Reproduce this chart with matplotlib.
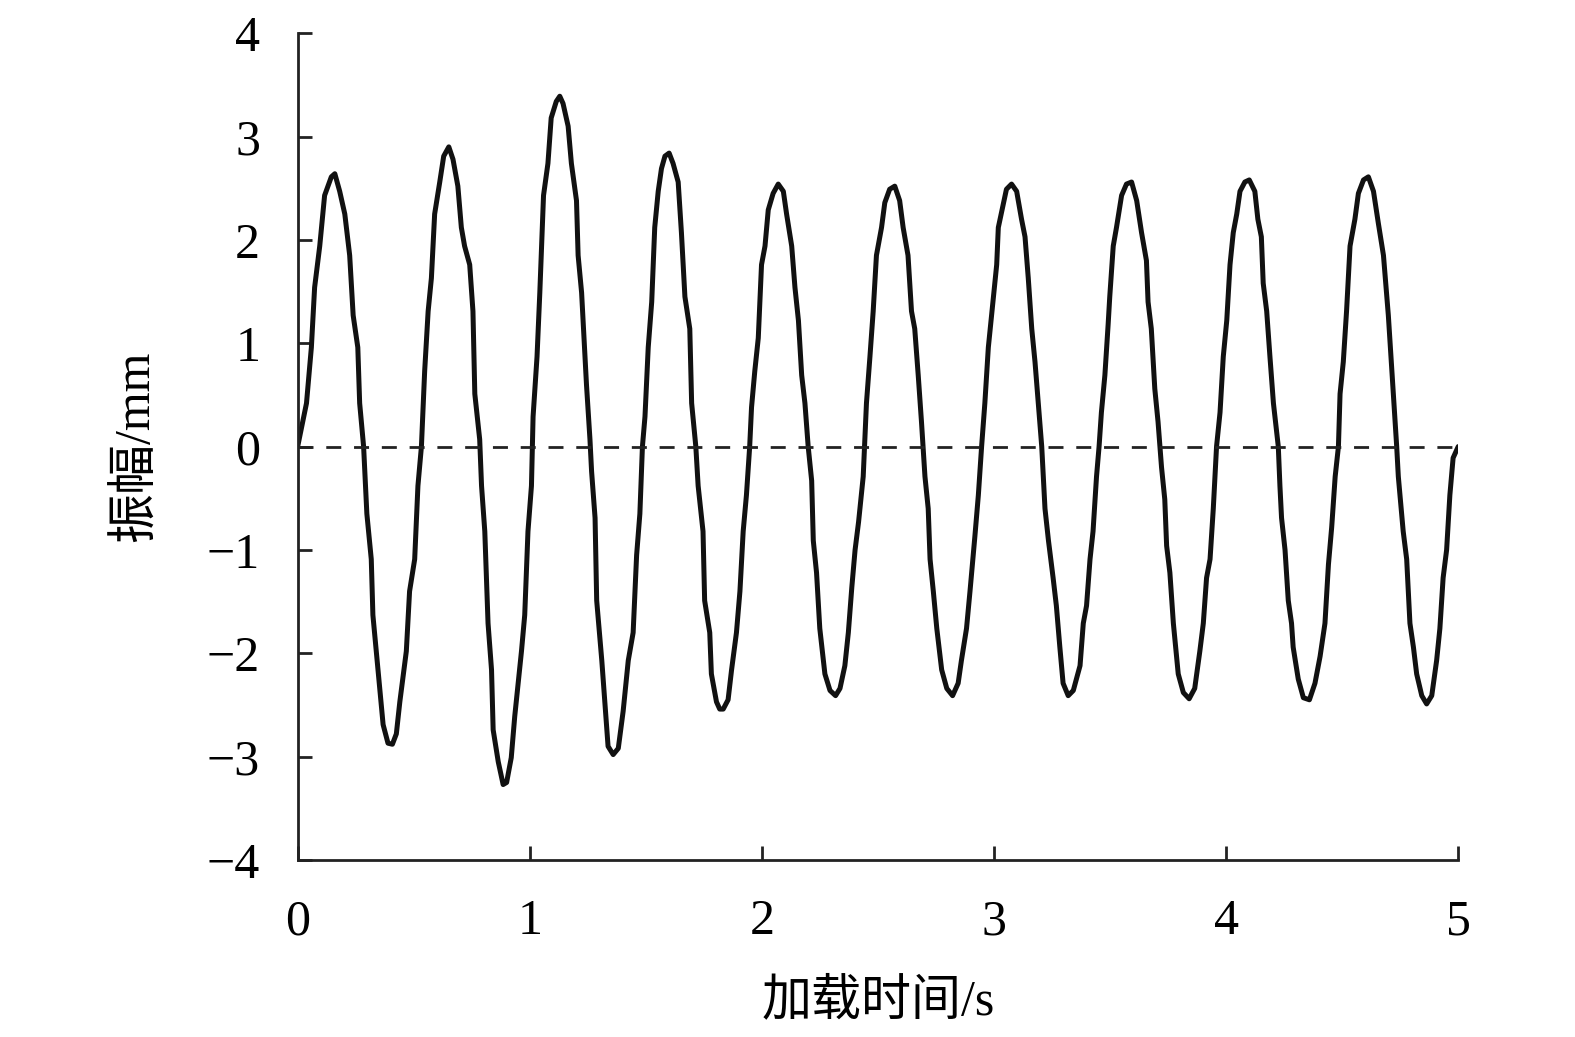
import matplotlib
matplotlib.use("Agg")
import matplotlib.pyplot as plt

# 加载时间 (s) 与振幅 (mm)
t = [0.000, 0.038, 0.059, 0.073, 0.095, 0.116, 0.145, 0.160, 0.181, 0.203,
     0.224, 0.239, 0.259, 0.267, 0.284, 0.298, 0.317, 0.324, 0.346, 0.368,
     0.389, 0.408, 0.425, 0.440, 0.468, 0.482, 0.504, 0.518, 0.533, 0.547,
     0.562, 0.576, 0.590, 0.612, 0.629, 0.651, 0.669, 0.690, 0.705, 0.719,
     0.741, 0.755, 0.763, 0.784, 0.792,
     0.806, 0.820, 0.835, 0.842, 0.864, 0.885, 0.900, 0.920, 0.935, 0.964,
     0.978, 0.992, 1.007, 1.014, 1.031, 1.043, 1.059, 1.078, 1.092, 1.114,
     1.129, 1.143, 1.165, 1.179, 1.201, 1.208, 1.223, 1.244, 1.259, 1.266,
     1.281, 1.288, 1.310, 1.323, 1.337, 1.359, 1.381, 1.402, 1.424, 1.445,
     1.460, 1.474, 1.485, 1.496, 1.510, 1.525, 1.538, 1.553, 1.567, 1.582,
     1.600, 1.617, 1.639,
     1.653, 1.668, 1.689, 1.697, 1.715, 1.725, 1.746, 1.753, 1.775, 1.782,
     1.804, 1.818, 1.833, 1.854, 1.869, 1.890, 1.905, 1.919, 1.933, 1.947,
     1.955, 1.969, 1.984, 1.998, 2.013, 2.027, 2.048, 2.070, 2.092, 2.106,
     2.128, 2.142, 2.157, 2.171, 2.185, 2.199, 2.214, 2.221, 2.235, 2.249,
     2.271, 2.293, 2.317, 2.336, 2.357, 2.372, 2.387, 2.401, 2.416,
     2.436, 2.450, 2.465, 2.479, 2.493, 2.515, 2.529, 2.550, 2.572, 2.593,
     2.608, 2.629, 2.644, 2.658, 2.673, 2.687, 2.702, 2.716, 2.724, 2.738,
     2.753, 2.774, 2.796, 2.821, 2.845, 2.859, 2.881, 2.896, 2.917, 2.932,
     2.946, 2.960, 2.975, 2.989, 3.011, 3.018, 3.039, 3.053, 3.075, 3.097,
     3.118, 3.133, 3.147, 3.162, 3.176, 3.190, 3.205, 3.219, 3.234,
     3.254, 3.268, 3.283, 3.297, 3.319, 3.341, 3.370, 3.384, 3.398, 3.413,
     3.426, 3.441, 3.452, 3.462, 3.477, 3.491, 3.498, 3.513, 3.527, 3.549,
     3.570, 3.592, 3.614, 3.635, 3.656, 3.663, 3.677, 3.692, 3.706, 3.721,
     3.735, 3.743, 3.757, 3.772, 3.793, 3.815, 3.840, 3.864, 3.886, 3.901,
     3.915, 3.930, 3.944, 3.958, 3.973, 3.987, 4.002, 4.016, 4.030, 4.045,
     4.059, 4.080,
     4.099, 4.123, 4.136, 4.151, 4.159, 4.174, 4.188, 4.203, 4.224, 4.231,
     4.238, 4.253, 4.267, 4.281, 4.288, 4.310, 4.332, 4.358, 4.382, 4.404,
     4.425, 4.440, 4.454, 4.469, 4.483, 4.490, 4.504, 4.518, 4.533, 4.554,
     4.569, 4.591, 4.612, 4.634, 4.655, 4.677, 4.698, 4.712, 4.734, 4.741,
     4.762, 4.777, 4.791, 4.806, 4.820, 4.842, 4.863, 4.885, 4.906, 4.920,
     4.934, 4.949, 4.963, 4.977, 4.999]

amp = [0.00, 0.42, 0.96, 1.54, 1.94, 2.43, 2.61, 2.64, 2.47, 2.25,
       1.85, 1.27, 0.96, 0.42, 0.00, -0.65, -1.09, -1.63, -2.16, -2.69,
       -2.87, -2.88, -2.78, -2.47, -1.98, -1.40, -1.09, -0.38, 0.00, 0.73,
       1.31, 1.63, 2.25, 2.56, 2.81, 2.90, 2.78, 2.52, 2.12, 1.94,
       1.76, 1.31, 0.51, 0.07, -0.38,
       -0.82, -1.71, -2.16, -2.74, -3.05, -3.27, -3.25, -3.01, -2.61, -1.98,
       -1.63, -0.82, -0.38, 0.29, 0.87, 1.49, 2.43, 2.74, 3.18, 3.34,
       3.39, 3.32, 3.10, 2.74, 2.38, 1.85, 1.49, 0.60, 0.07, -0.24,
       -0.69, -1.49, -2.07, -2.47, -2.90, -2.98, -2.92, -2.56, -2.07, -1.80,
       -1.05, -0.65, 0.00, 0.29, 0.96, 1.40, 2.12, 2.47, 2.69, 2.81,
       2.84, 2.74, 2.56,
       2.07, 1.45, 1.14, 0.42, 0.00, -0.38, -0.82, -1.49, -1.80, -2.20,
       -2.47, -2.54, -2.54, -2.45, -2.16, -1.80, -1.40, -0.82, -0.47, 0.00,
       0.38, 0.73, 1.05, 1.76, 1.94, 2.29, 2.45, 2.54, 2.47, 2.25,
       1.94, 1.54, 1.22, 0.69, 0.42, 0.00, -0.33, -0.91, -1.22, -1.76,
       -2.20, -2.36, -2.41, -2.34, -2.12, -1.80, -1.36, -1.00, -0.73,
       -0.29, 0.42, 0.87, 1.31, 1.85, 2.12, 2.36, 2.49, 2.52, 2.38,
       2.12, 1.85, 1.31, 1.14, 0.69, 0.24, -0.29, -0.60, -1.09, -1.40,
       -1.76, -2.16, -2.34, -2.41, -2.29, -2.07, -1.76, -1.40, -0.87, -0.47,
       0.00, 0.42, 0.96, 1.27, 1.76, 2.12, 2.34, 2.49, 2.54, 2.47,
       2.20, 2.03, 1.63, 1.14, 0.82, 0.42, 0.00, -0.60, -0.91,
       -1.27, -1.54, -1.94, -2.29, -2.41, -2.36, -2.12, -1.71, -1.54, -1.09,
       -0.82, -0.29, 0.00, 0.33, 0.69, 1.18, 1.45, 1.94, 2.12, 2.43,
       2.54, 2.56, 2.38, 2.07, 1.80, 1.40, 1.14, 0.56, 0.24, -0.20,
       -0.51, -0.96, -1.22, -1.71, -2.20, -2.38, -2.44, -2.34, -1.98, -1.71,
       -1.27, -1.09, -0.60, 0.00, 0.33, 0.87, 1.22, 1.76, 2.07, 2.25,
       2.47, 2.56,
       2.58, 2.47, 2.20, 2.03, 1.58, 1.31, 0.87, 0.42, 0.00, -0.38,
       -0.69, -1.00, -1.49, -1.71, -1.94, -2.25, -2.43, -2.45, -2.29, -2.03,
       -1.71, -1.14, -0.78, -0.29, 0.00, 0.51, 0.82, 1.31, 1.94, 2.20,
       2.45, 2.58, 2.61, 2.47, 2.16, 1.85, 1.27, 0.78, 0.00, -0.29,
       -0.82, -1.09, -1.71, -1.94, -2.20, -2.41, -2.49, -2.41, -2.07, -1.76,
       -1.27, -1.00, -0.47, -0.11, 0.00]

x_ticks = [0, 1, 2, 3, 4, 5]
y_ticks = [-4, -3, -2, -1, 0, 1, 2, 3, 4]

SERIF = ["Liberation Serif", "Noto Sans CJK SC", "DejaVu Sans"]
plt.rcParams["font.family"] = SERIF
plt.rcParams["axes.unicode_minus"] = True

fig = plt.figure(figsize=(15.75, 10.37), dpi=100)
fig.patch.set_facecolor("white")
ax = fig.add_axes([0.189, 0.1707, 0.737, 0.7973])

ax.plot(t, amp, color="#111111", lw=3.6, solid_joinstyle="round",
        solid_capstyle="round")
ax.axhline(0, color="#222222", lw=2.0, linestyle=(0, (5.4, 4.6)))

ax.set_xlim(0, 5)
ax.set_ylim(-4, 4)
ax.set_xticks(x_ticks)
ax.set_yticks(y_ticks)
ax.set_yticklabels([f"{v}".replace("-", "\u2212") for v in y_ticks])

for s in ("top", "right"):
    ax.spines[s].set_visible(False)
for s in ("left", "bottom"):
    ax.spines[s].set_linewidth(2.0)
    ax.spines[s].set_color("#222222")

ax.tick_params(axis="both", direction="in", length=10, width=2.0,
               color="#222222", labelsize=36)
ax.tick_params(axis="x", pad=28)
ax.tick_params(axis="y", pad=27)

ax.set_xlabel("加载时间/s", fontsize=36, labelpad=24)
ax.set_ylabel("振幅/mm", fontsize=36, labelpad=34)

plt.savefig("out.png", dpi=100, facecolor="white")
plt.close()
